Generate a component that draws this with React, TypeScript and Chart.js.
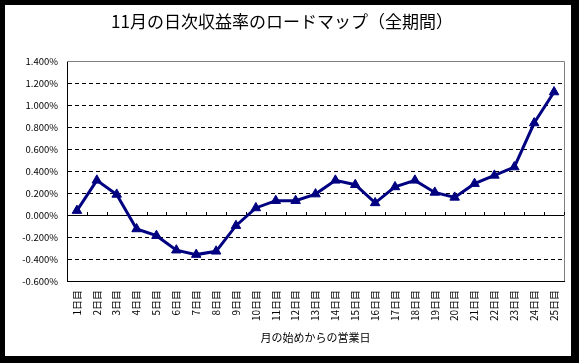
import React, { useEffect, useRef } from "react";
import { Chart, registerables } from "chart.js";

Chart.register(...registerables);

const TITLE = "11月の日次収益率のロードマップ（全期間）";
const X_TITLE = "月の始めからの営業日";
const DAYS = [
  "1日目", "2日目", "3日目", "4日目", "5日目", "6日目", "7日目", "8日目", "9日目", "10日目",
  "11日目", "12日目", "13日目", "14日目", "15日目", "16日目", "17日目", "18日目", "19日目", "20日目",
  "21日目", "22日目", "23日目", "24日目", "25日目",
];
const RETURNS = [
  0.04, 0.315, 0.187, -0.127, -0.188, -0.32, -0.36, -0.33, -0.097, 0.064,
  0.13, 0.13, 0.19, 0.315, 0.275, 0.11, 0.255, 0.315, 0.205, 0.16,
  0.285, 0.36, 0.436, 0.836, 1.118,
];
const Y_MIN = -0.6;
const Y_MAX = 1.4;
const Y_STEP = 0.2;

const FONT = '"Noto Sans CJK JP", "Noto Sans", sans-serif';

const framePlugin = {
  id: "frame",
  beforeDraw(chart: any) {
    const { ctx, width, height } = chart;
    ctx.save();
    ctx.fillStyle = "#000000";
    ctx.fillRect(0, 0, width, height);
    ctx.fillStyle = "#ffffff";
    ctx.fillRect(5, 5, 566, 351);
    ctx.restore();
  },
  beforeDatasetsDraw(chart: any) {
    const { ctx, chartArea, scales } = chart;
    const { left, right, top, bottom } = chartArea;
    ctx.save();
    ctx.strokeStyle = "#808080";
    ctx.lineWidth = 1;
    ctx.beginPath();
    ctx.moveTo(left, top + 0.5);
    ctx.lineTo(right + 0.5, top + 0.5);
    ctx.lineTo(right + 0.5, bottom);
    ctx.stroke();
    // category tick marks on the zero line
    const y0 = Math.round(scales.y.getPixelForValue(0));
    const n = DAYS.length;
    const w = (right - left) / n;
    ctx.strokeStyle = "#000000";
    ctx.beginPath();
    for (let i = 1; i <= n; i++) {
      const x = Math.round(left + i * w) + 0.5;
      ctx.moveTo(x, y0);
      ctx.lineTo(x, y0 - 3);
    }
    ctx.stroke();
    ctx.restore();
  },
  afterDraw(chart: any) {
    // category labels, rotated to read from bottom to top
    const { ctx, scales } = chart;
    const xs = scales.x;
    ctx.save();
    ctx.fillStyle = "#000000";
    ctx.font = `10px ${FONT}`;
    ctx.textAlign = "right";
    ctx.textBaseline = "middle";
    DAYS.forEach((label, i) => {
      const x = xs.getPixelForValue(i);
      ctx.save();
      ctx.translate(x, xs.top + 9);
      ctx.rotate(-Math.PI / 2);
      ctx.fillText(label, 0, 0);
      ctx.restore();
    });
    ctx.restore();
  },
};

export default function App() {
  const ref = useRef<HTMLCanvasElement | null>(null);
  useEffect(() => {
    if (!ref.current) return;
    const chart = new Chart(ref.current, {
      type: "line",
      data: {
        labels: DAYS,
        datasets: [
          {
            data: RETURNS,
            borderColor: "#000080",
            backgroundColor: "#000080",
            borderWidth: 3,
            pointStyle: "triangle",
            pointRadius: 5.5,
            pointBorderWidth: 1,
            pointBackgroundColor: "#000080",
            pointBorderColor: "#000080",
            tension: 0,
          },
        ],
      },
      options: {
        responsive: false,
        animation: false,
        devicePixelRatio: 1,
        layout: { padding: { left: 0, right: 15, top: 0, bottom: 0 } },
        plugins: {
          legend: { display: false },
          tooltip: { enabled: false },
          title: {
            display: true,
            text: TITLE,
            color: "#000000",
            font: { family: FONT, size: 17, weight: "normal" },
            padding: { top: 11.8, bottom: 28.8 },
          },
        },
        scales: {
          x: {
            type: "category",
            offset: true,
            grid: { display: true, drawOnChartArea: false, drawTicks: false },
            border: { display: true, color: "#000000", width: 1 },
            ticks: { display: false },
            title: {
              display: true,
              text: X_TITLE,
              color: "#000000",
              font: { family: FONT, size: 11 },
              padding: { top: 0, bottom: 18.4 },
            },
            afterFit: (s: any) => {
              s.height = 82;
            },
          },
          y: {
            min: Y_MIN,
            max: Y_MAX,
            grid: {
              drawTicks: false,
              color: (c: any) => {
                const v = c.tick ? Math.round(c.tick.value * 1000) / 1000 : 0;
                if (v === Y_MAX) return "rgba(0,0,0,0)";
                return "#000000";
              },
              lineWidth: 1,
            },
            border: {
              display: true,
              color: "#000000",
              width: 1,
              dash: (c: any) => {
                const v = c.tick ? Math.round(c.tick.value * 1000) / 1000 : 0;
                return v === 0 || v === Y_MIN ? [] : [4, 3];
              },
            },
            ticks: {
              stepSize: Y_STEP,
              padding: 9,
              color: "#000000",
              font: { family: FONT, size: 9.5 },
              callback: (v: any) => Number(v).toFixed(3) + "%",
            },
            afterFit: (s: any) => {
              s.width = 67;
            },
          },
        },
      },
      plugins: [framePlugin],
    });
    return () => chart.destroy();
  }, []);
  return (
    <div style={{ position: "absolute", left: 0, top: 0, width: 579, height: 363, background: "#000" }}>
      <canvas ref={ref} width={579} height={363} style={{ display: "block" }} />
    </div>
  );
}
